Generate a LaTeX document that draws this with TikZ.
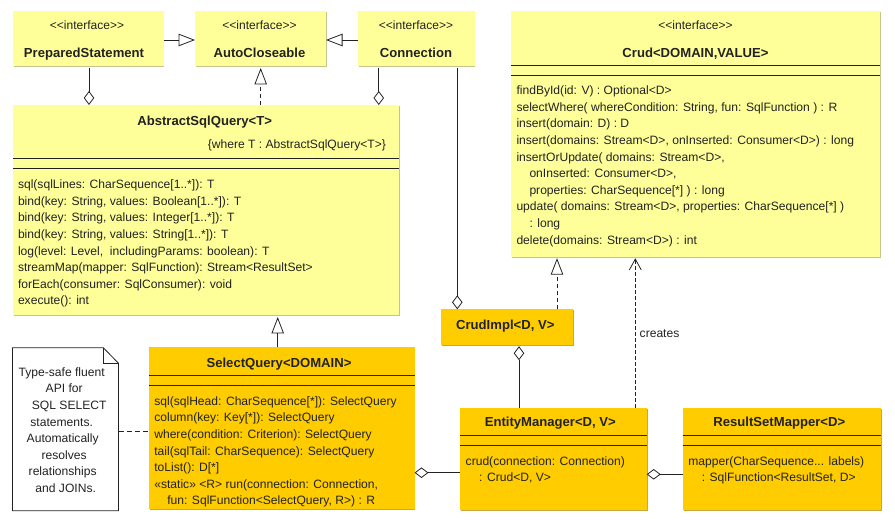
\documentclass[tikz,border=0pt]{standalone}
\usepackage{fontspec}
\usetikzlibrary{arrows.meta}
\newfontfamily\umlf{Liberation Sans}
\definecolor{ylw}{HTML}{FFFF99}
\definecolor{ylwedge}{HTML}{C4C48C}
\definecolor{org}{HTML}{FFCC00}
\definecolor{orgedge}{HTML}{C8A83C}
\definecolor{ink}{HTML}{222222}
\tikzset{
  x=1pt,y=-1pt,
  every node/.style={inner sep=0pt,outer sep=0pt,text=ink},
  umltext/.style={font=\umlf\fontsize{12.1}{16.6}\selectfont},
  boxbase/.style={anchor=north west,draw=none,
    preaction={fill=#1edge,transform canvas={shift={(.9pt,-.9pt)}}},fill=#1},
  ybox/.style={boxbase=ylw},
  obox/.style={boxbase=org},
  title/.style={font=\umlf\fontsize{13.1}{16.6}\selectfont\bfseries,anchor=center,text height=9pt,text depth=3pt,yshift=-1.6pt},
  stereo/.style={font=\umlf\fontsize{12}{14}\selectfont,anchor=center,text height=8pt,text depth=3pt,yshift=-1.5pt},
  members/.style={umltext,anchor=north west,align=left},
  sep/.style={draw=ink,line width=.8pt},
  conn/.style={draw=ink,line width=.8pt},
  aggr/.style={conn,-{Diamond[open,length=14pt,width=10.5pt]}},
  gener/.style={conn,-{Triangle[open,length=16.5pt,width=12.5pt]}},
  real/.style={conn,dash pattern=on 4pt off 3pt,-{Triangle[open,length=16.5pt,width=12.5pt]}},
  dep/.style={conn,dash pattern=on 4pt off 2pt,-{Straight Barb[length=11pt,width=12pt]}},
}
\begin{document}
\begin{tikzpicture}
\useasboundingbox (0,0) rectangle (895,526);
% boxes
\node[ybox,minimum width=150.5pt,minimum height=55.5pt] (prep) at (13,11) {};
\node[ybox,minimum width=131pt,minimum height=55.5pt] (auto) at (195,11) {};
\node[ybox,minimum width=116.5pt,minimum height=55.5pt] (conn) at (358,11) {};
\node[ybox,minimum width=386pt,minimum height=210.5pt] (abst) at (13,105) {};
\node[ybox,minimum width=369pt,minimum height=245.7pt] (crud) at (511,11) {};
\node[obox,minimum width=131.7pt,minimum height=35.4pt] (impl) at (441,309.3) {};
\node[obox,minimum width=265.5pt,minimum height=162pt] (sel) at (149,347.3) {};
\node[obox,minimum width=186.7pt,minimum height=102.3pt] (em) at (460,408) {};
\node[obox,minimum width=198pt,minimum height=102.3pt] (rsm) at (682.7,408) {};
% note
\node[anchor=north west,minimum width=106pt,minimum height=163pt] (note) at (12.5,347.7) {};
\draw[conn,fill=white] (note.north west) -- (103.3,347.7) -- (118.5,363.3) -- (note.south east) -- (note.south west) -- cycle;
\draw[conn] (103.3,347.7) -- (103.3,363.3) -- (118.5,363.3);
\node[umltext,align=center,anchor=north] (notetext) at (61.7,367.5) {Type-safe fluent\\
\hspace*{5pt}API for\\
\hspace*{15pt}SQL SELECT\\
statements.\\
\hspace*{2pt}Automatically\\
\hspace*{5pt}resolves\\
\hspace*{2pt}relationships\\
\hspace*{8pt}and JOINs.};
% separators
\foreach \n/\ya/\yb in {abst/158.7/168.7,crud/65/75.3,sel/375.3/385.3,em/435.7/445.7,rsm/435.7/445.7}{
  \draw[sep] (\n.west |- 0,\ya) -- (\n.east |- 0,\ya);
  \draw[sep] (\n.west |- 0,\yb) -- (\n.east |- 0,\yb);
}
% headers
\node[stereo] (s1) at (87,26) {<<interface>>};
\node[title] (t1) at (84,52.7) {PreparedStatement};
\node[stereo] (s2) at (259.5,26) {<<interface>>};
\node[title] (t2) at (259.5,52.7) {AutoCloseable};
\node[stereo] (s3) at (416,26) {<<interface>>};
\node[title] (t3) at (416,52.7) {Connection};
\node[stereo] (s4) at (695.5,26) {<<interface>>};
\node[title] (t4) at (695.5,52.7) {Crud<DOMAIN,VALUE>};
\node[title] (t5) at (204.7,120.7) {AbstractSqlQuery<T>};
\node[umltext,anchor=east] (wh) at (386,145) {\{where T : AbstractSqlQuery<T>\}};
\node[title] (t6) at (279,362.7) {SelectQuery<DOMAIN>};
\node[title] (t7) at (505.3,324.7) {CrudImpl<D, V>};
\node[title] (t8) at (550.3,422.3) {EntityManager<D, V>};
\node[title] (t9) at (779.3,422.3) {ResultSetMapper<D>};
% members
\node[members] (m1) at (18,180) {sql(sqlLines: CharSequence[1..*]): T\\
bind(key: String, values: Boolean[1..*]): T\\
bind(key: String, values: Integer[1..*]): T\\
bind(key: String, values: String[1..*]): T\\
log(level: Level,\ \ includingParams: boolean): T\\
streamMap(mapper: SqlFunction): Stream<ResultSet>\\
forEach(consumer: SqlConsumer): void\\
execute(): int};
\node[members] (m2) at (516.5,86) {findById(id: V) : Optional<D>\\
selectWhere( whereCondition: String, fun: SqlFunction ) : R\\
insert(domain: D) : D\\
insert(domains: Stream<D>, onInserted: Consumer<D>) : long\\
insertOrUpdate( domains: Stream<D>,\\
\hspace*{13pt}onInserted: Consumer<D>,\\
\hspace*{13pt}properties: CharSequence[*] ) : long\\
update( domains: Stream<D>, properties: CharSequence[*] )\\
\hspace*{13pt}: long\\
delete(domains: Stream<D>) : int};
\node[members] (m3) at (154.3,396.5) {sql(sqlHead: CharSequence[*]): SelectQuery\\
column(key: Key[*]): SelectQuery\\
where(condition: Criterion): SelectQuery\\
tail(sqlTail: CharSequence): SelectQuery\\
toList(): D[*]\\
«static» <R> run(connection: Connection,\\
\hspace*{13pt}fun: SqlFunction<SelectQuery, R>) : R};
\node[members] (m4) at (465.7,456.5) {crud(connection: Connection)\\
\hspace*{13.5pt}: Crud<D, V>};
\node[members] (m5) at (688.3,456.5) {mapper(CharSequence... labels)\\
\hspace*{13.5pt}: SqlFunction<ResultSet, D>};
% connectors
\draw[gener] (prep.east |- 0,40) -- (auto.west |- 0,40);
\draw[gener] (conn.west |- 0,40) -- (auto.east |- 0,40);
\draw[real,shorten >=1.5pt] (260.7,0 |- abst.north) -- (260.7,0 |- auto.south);
\draw[aggr,shorten <=1.5pt] (89,0 |- prep.south) -- (89,0 |- abst.north);
\draw[aggr,shorten <=1.5pt] (378.8,0 |- conn.south) -- (378.8,0 |- abst.north);
\draw[aggr,shorten <=1.5pt] (457.3,0 |- conn.south) -- (457.3,0 |- impl.north);
\draw[gener,shorten >=1.5pt] (277.7,0 |- sel.north) -- (277.7,0 |- abst.south);
\draw[real,shorten >=1.5pt] (557,0 |- impl.north) -- (557,0 |- crud.south);
\draw[dep,shorten >=1.5pt] (635.3,0 |- em.north) -- (635.3,0 |- crud.south);
\node[umltext,anchor=west] (cr) at (639.7,334) {creates};
\draw[aggr,shorten >=1.5pt] (519,0 |- em.north) -- (519,0 |- impl.south);
\draw[aggr] (em.west |- 0,472.7) -- (sel.east |- 0,472.7);
\draw[aggr] (rsm.west |- 0,474.3) -- (em.east |- 0,474.3);
\draw[conn,dash pattern=on 5pt off 3pt] (note.east |- 0,431.7) -- (sel.west |- 0,431.7);
\end{tikzpicture}
\end{document}
